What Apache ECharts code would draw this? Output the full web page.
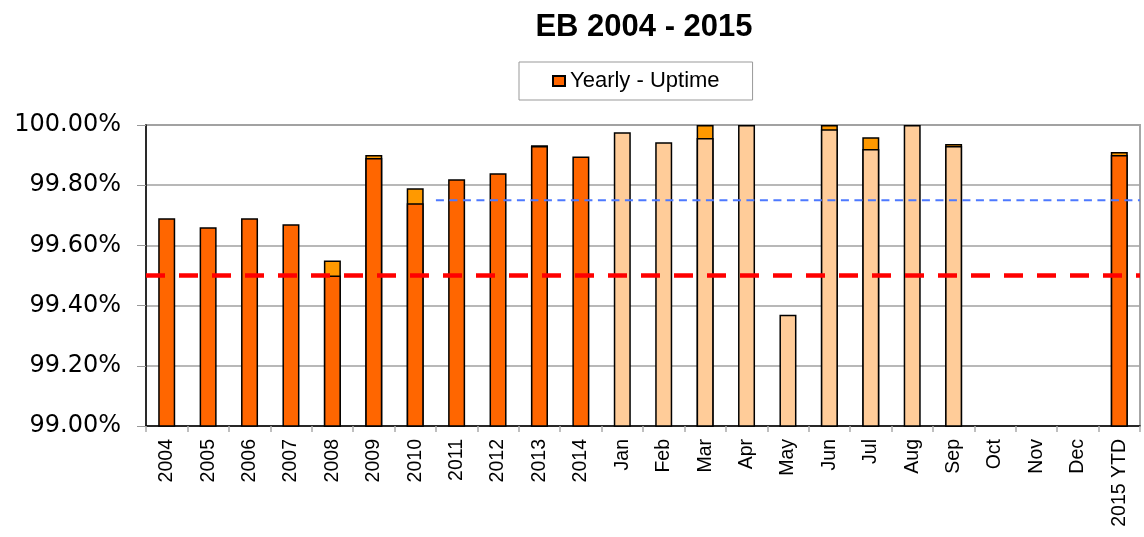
<!DOCTYPE html>
<html>
<head>
<meta charset="utf-8">
<script src="https://cdn.jsdelivr.net/npm/echarts@6/dist/echarts.min.js"></script>
<style>
  html, body { margin: 0; padding: 0; background: #fff; }
  #chart { width: 1144px; height: 537px; }
</style>
</head>
<body>
<div id="chart"></div>
<script>
const categories = ['2004','2005','2006','2007','2008','2009','2010','2011','2012','2013','2014',
  'Jan','Feb','Mar','Apr','May','Jun','Jul','Aug','Sep','Oct','Nov','Dec','2015 YTD'];

// Yearly uptime (dark orange base)
const yearlyUptime = [99.69, 99.66, 99.69, 99.67, 99.50, 99.89, 99.74, 99.82, 99.84, 99.93, 99.895,
  null, null, null, null, null, null, null, null, null, null, null, null, 99.90];

// Monthly uptime 2015 (light base)
const monthlyUptime = [null, null, null, null, null, null, null, null, null, null, null,
  99.976, 99.943, 99.957, 100.00, 99.37, 99.986, 99.92, 100.00, 99.93, null, null, null, null];

// Uptime including excluded outages (top orange piece)
const adjustedUptime = [null, null, null, null, 99.55, 99.90, 99.79, null, null, 99.933, null,
  null, null, 100.00, null, null, 100.00, 99.959, null, 99.937, null, null, null, 99.91];

const yTicks = { min: 99.0, max: 100.0, interval: 0.2 };
const slaTarget = 99.5;
const goalTarget = 99.75;
const goalStartIndex = 7; // from 2011

const chart = echarts.init(document.getElementById('chart'), null, { renderer: 'canvas' });

const barCommon = {
  type: 'bar',
  barWidth: 17,
  barGap: '-100%',
  xAxisIndex: 0,
  yAxisIndex: 0
};

chart.setOption({
  animation: false,
  backgroundColor: '#ffffff',
  title: {
    text: 'EB 2004 - 2015',
    left: 639,
    textAlign: 'center',
    top: 7,
    textStyle: { fontFamily: 'Liberation Sans', fontWeight: 'bold', fontSize: 31, color: '#000' }
  },
  legend: {
    data: ['Yearly - Uptime'],
    icon: 'rect',
    left: 519,
    top: 62,
    padding: [8, 33],
    borderColor: '#999',
    borderWidth: 1,
    itemWidth: 12,
    itemHeight: 10,
    itemGap: 5,
    textStyle: { fontFamily: 'Liberation Sans', fontSize: 22, color: '#000' }
  },
  grid: {
    left: 146, right: 4, top: 125, bottom: 111,
    show: true, borderColor: '#a6a6a6', borderWidth: 2, backgroundColor: 'transparent'
  },
  xAxis: [{
    type: 'category',
    data: categories,
    boundaryGap: true,
    axisLine: { lineStyle: { color: '#000', width: 1.5 } },
    axisTick: { show: true, length: 6, lineStyle: { color: '#aaa', width: 1.5 } },
    axisLabel: {
      rotate: 90, interval: 0, margin: 13,
      fontFamily: 'Liberation Sans', fontSize: 19.5, color: '#000'
    },
    splitLine: { show: false }
  }, {
    type: 'value',
    min: 0,
    max: categories.length,
    show: false
  }],
  yAxis: {
    type: 'value',
    min: yTicks.min,
    max: yTicks.max,
    interval: yTicks.interval,
    axisLine: { show: true, lineStyle: { color: '#000', width: 1.5 } },
    axisTick: { show: true, length: 9, lineStyle: { color: '#999' } },
    axisLabel: {
      margin: 25,
      fontFamily: 'DejaVu Sans', fontSize: 24, color: '#000',
      formatter: v => v.toFixed(2) + '%'
    },
    splitLine: { show: true, lineStyle: { color: '#a0a0a0', width: 1.5 } }
  },
  series: [
    Object.assign({}, barCommon, {
      name: 'Excluded',
      data: adjustedUptime,
      itemStyle: { color: '#FF9900', borderColor: '#000', borderWidth: 1.5 }
    }),
    Object.assign({}, barCommon, {
      name: 'Yearly - Uptime',
      data: yearlyUptime,
      itemStyle: { color: '#FF6600', borderColor: '#000', borderWidth: 1.5 }
    }),
    Object.assign({}, barCommon, {
      name: 'Monthly - Uptime',
      data: monthlyUptime,
      itemStyle: { color: '#FFCC99', borderColor: '#000', borderWidth: 1.5 }
    }),
    {
      name: 'Goal', type: 'line', xAxisIndex: 1, yAxisIndex: 0,
      data: [[goalStartIndex, goalTarget], [categories.length, goalTarget]],
      symbol: 'none',
      lineStyle: { color: '#4D79FF', width: 2, type: [8, 5.5] },
      z: 5
    },
    {
      name: 'SLA', type: 'line', xAxisIndex: 1, yAxisIndex: 0,
      data: [[0, slaTarget], [categories.length, slaTarget]],
      symbol: 'none',
      lineStyle: { color: '#FF0000', width: 4.5, type: [19, 14] },
      z: 6
    }
  ]
});
</script>
</body>
</html>
